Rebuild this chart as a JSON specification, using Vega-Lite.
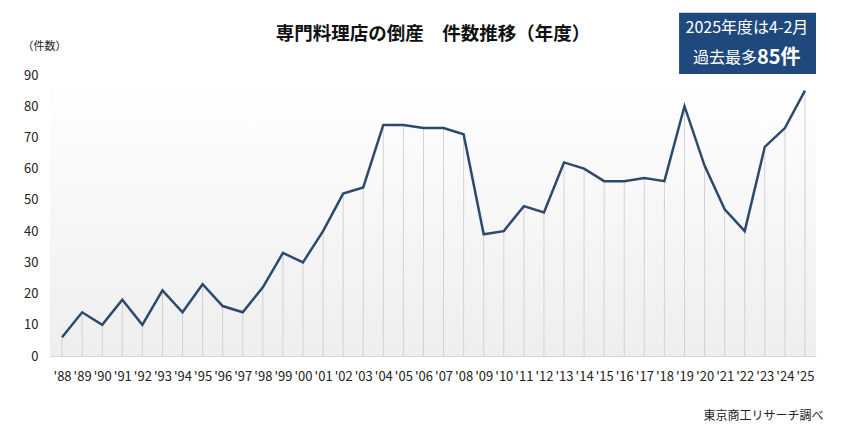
{
  "$schema": "https://vega.github.io/schema/vega-lite/v6.json",
  "autosize": "none",
  "width": 766,
  "height": 281,
  "padding": {"left": 50, "top": 75, "right": 25, "bottom": 80},
  "background": "white",
  "config": {
    "font": "Noto Sans CJK JP",
    "view": {"stroke": null},
    "title": {"font": "Noto Sans CJK JP"},
    "axis": {"labelFont": "Noto Sans CJK JP", "titleFont": "Noto Sans CJK JP", "labelOverlap": false, "labelBound": false, "labelFlush": false, "ticks": false, "tickSize": 0, "grid": false, "labelFontSize": 13, "labelColor": "#222222", "titleFontWeight": "normal", "titleColor": "#222222", "titleBaseline": "middle", "titleAnchor": null},
    "axisX": {"labelPadding": 14, "domain": true, "domainColor": "#d6d6d6", "domainWidth": 1, "titleFontSize": 12, "titleAlign": "right", "titleX": 773, "titleY": 59},
    "axisY": {"labelPadding": 12, "domain": false, "titleFontSize": 11, "titleAngle": 0, "titleAlign": "left", "titleX": -28, "titleY": -29}
  },
  "title": {
    "text": "専門料理店の倒産　件数推移（年度）",
    "fontSize": 18.5,
    "fontWeight": "bold",
    "color": "#111111",
    "anchor": "middle",
    "frame": "group",
    "offset": -31
  },
  "data": {
    "values": [
      {"year": 1988, "count": 6},
      {"year": 1989, "count": 14},
      {"year": 1990, "count": 10},
      {"year": 1991, "count": 18},
      {"year": 1992, "count": 10},
      {"year": 1993, "count": 21},
      {"year": 1994, "count": 14},
      {"year": 1995, "count": 23},
      {"year": 1996, "count": 16},
      {"year": 1997, "count": 14},
      {"year": 1998, "count": 22},
      {"year": 1999, "count": 33},
      {"year": 2000, "count": 30},
      {"year": 2001, "count": 40},
      {"year": 2002, "count": 52},
      {"year": 2003, "count": 54},
      {"year": 2004, "count": 74},
      {"year": 2005, "count": 74},
      {"year": 2006, "count": 73},
      {"year": 2007, "count": 73},
      {"year": 2008, "count": 71},
      {"year": 2009, "count": 39},
      {"year": 2010, "count": 40},
      {"year": 2011, "count": 48},
      {"year": 2012, "count": 46},
      {"year": 2013, "count": 62},
      {"year": 2014, "count": 60},
      {"year": 2015, "count": 56},
      {"year": 2016, "count": 56},
      {"year": 2017, "count": 57},
      {"year": 2018, "count": 56},
      {"year": 2019, "count": 80},
      {"year": 2020, "count": 61},
      {"year": 2021, "count": 47},
      {"year": 2022, "count": 40},
      {"year": 2023, "count": 67},
      {"year": 2024, "count": 73},
      {"year": 2025, "count": 85}
    ]
  },
  "layer": [
    {
      "data": {"values": [{}]},
      "mark": {
        "type": "rect",
        "fill": {
          "gradient": "linear",
          "x1": 0, "y1": 0, "x2": 0, "y2": 1,
          "stops": [
            {"offset": 0, "color": "#ffffff"},
            {"offset": 1, "color": "#eeeeee"}
          ]
        }
      },
      "encoding": {
        "x": {"datum": 1987.4, "type": "quantitative",
          "scale": {"domain": [1987.4, 2025.55], "nice": false, "zero": false},
          "axis": {"values": [1988,1989,1990,1991,1992,1993,1994,1995,1996,1997,1998,1999,2000,2001,2002,2003,2004,2005,2006,2007,2008,2009,2010,2011,2012,2013,2014,2015,2016,2017,2018,2019,2020,2021,2022,2023,2024,2025], "labelExpr": "\"'\" + slice(toString(datum.value), 2)", "title": "東京商工リサーチ調べ"}},
        "x2": {"datum": 2025.55},
        "y": {"datum": 90, "type": "quantitative",
          "scale": {"domain": [0, 90], "nice": false},
          "axis": {"values": [0, 10, 20, 30, 40, 50, 60, 70, 80, 90], "title": "（件数）"}},
        "y2": {"datum": 0}
      }
    },
    {
      "mark": {"type": "rule", "color": "#d2d2d2", "strokeWidth": 1},
      "encoding": {
        "x": {"field": "year", "type": "quantitative",
          "axis": {"values": [1988,1989,1990,1991,1992,1993,1994,1995,1996,1997,1998,1999,2000,2001,2002,2003,2004,2005,2006,2007,2008,2009,2010,2011,2012,2013,2014,2015,2016,2017,2018,2019,2020,2021,2022,2023,2024,2025], "labelExpr": "\"'\" + slice(toString(datum.value), 2)", "title": "東京商工リサーチ調べ"}},
        "y": {"field": "count", "type": "quantitative",
          "axis": {"values": [0, 10, 20, 30, 40, 50, 60, 70, 80, 90], "title": "（件数）"}},
        "y2": {"datum": 0}
      }
    },
    {
      "mark": {"type": "line", "color": "#2c4a6b", "strokeWidth": 2.5},
      "encoding": {
        "x": {"field": "year", "type": "quantitative",
          "axis": {"values": [1988,1989,1990,1991,1992,1993,1994,1995,1996,1997,1998,1999,2000,2001,2002,2003,2004,2005,2006,2007,2008,2009,2010,2011,2012,2013,2014,2015,2016,2017,2018,2019,2020,2021,2022,2023,2024,2025], "labelExpr": "\"'\" + slice(toString(datum.value), 2)", "title": "東京商工リサーチ調べ"}},
        "y": {"field": "count", "type": "quantitative",
          "axis": {"values": [0, 10, 20, 30, 40, 50, 60, 70, 80, 90], "title": "（件数）"}}
      }
    },
    {
      "data": {"values": [{}]},
      "mark": {"type": "rect", "fill": "#1f497d"},
      "encoding": {
        "x": {"datum": 2018.73, "type": "quantitative",
          "axis": {"values": [1988,1989,1990,1991,1992,1993,1994,1995,1996,1997,1998,1999,2000,2001,2002,2003,2004,2005,2006,2007,2008,2009,2010,2011,2012,2013,2014,2015,2016,2017,2018,2019,2020,2021,2022,2023,2024,2025], "labelExpr": "\"'\" + slice(toString(datum.value), 2)", "title": "東京商工リサーチ調べ"}},
        "x2": {"datum": 2025.55},
        "y": {"datum": 90.3, "type": "quantitative",
          "axis": {"values": [0, 10, 20, 30, 40, 50, 60, 70, 80, 90], "title": "（件数）"}},
        "y2": {"datum": 109.9}
      }
    },
    {
      "data": {"values": [{}]},
      "mark": {"type": "text", "text": "2025年度は4-2月", "color": "white", "fontSize": 16, "align": "center", "baseline": "middle"},
      "encoding": {
        "x": {"datum": 2022.11, "type": "quantitative",
          "axis": {"values": [1988,1989,1990,1991,1992,1993,1994,1995,1996,1997,1998,1999,2000,2001,2002,2003,2004,2005,2006,2007,2008,2009,2010,2011,2012,2013,2014,2015,2016,2017,2018,2019,2020,2021,2022,2023,2024,2025], "labelExpr": "\"'\" + slice(toString(datum.value), 2)", "title": "東京商工リサーチ調べ"}},
        "y": {"datum": 104.9, "type": "quantitative",
          "axis": {"values": [0, 10, 20, 30, 40, 50, 60, 70, 80, 90], "title": "（件数）"}}
      }
    },
    {
      "data": {"values": [{}]},
      "mark": {"type": "text", "text": "過去最多", "color": "white", "fontSize": 16, "align": "right", "baseline": "middle"},
      "encoding": {
        "x": {"datum": 2022.61, "type": "quantitative",
          "axis": {"values": [1988,1989,1990,1991,1992,1993,1994,1995,1996,1997,1998,1999,2000,2001,2002,2003,2004,2005,2006,2007,2008,2009,2010,2011,2012,2013,2014,2015,2016,2017,2018,2019,2020,2021,2022,2023,2024,2025], "labelExpr": "\"'\" + slice(toString(datum.value), 2)", "title": "東京商工リサーチ調べ"}},
        "y": {"datum": 95.45, "type": "quantitative",
          "axis": {"values": [0, 10, 20, 30, 40, 50, 60, 70, 80, 90], "title": "（件数）"}}
      }
    },
    {
      "data": {"values": [{}]},
      "mark": {"type": "text", "text": "85件", "color": "white", "fontSize": 20, "fontWeight": "bold", "align": "left", "baseline": "middle"},
      "encoding": {
        "x": {"datum": 2022.61, "type": "quantitative",
          "axis": {"values": [1988,1989,1990,1991,1992,1993,1994,1995,1996,1997,1998,1999,2000,2001,2002,2003,2004,2005,2006,2007,2008,2009,2010,2011,2012,2013,2014,2015,2016,2017,2018,2019,2020,2021,2022,2023,2024,2025], "labelExpr": "\"'\" + slice(toString(datum.value), 2)", "title": "東京商工リサーチ調べ"}},
        "y": {"datum": 95.45, "type": "quantitative",
          "axis": {"values": [0, 10, 20, 30, 40, 50, 60, 70, 80, 90], "title": "（件数）"}}
      }
    }
  ]
}
